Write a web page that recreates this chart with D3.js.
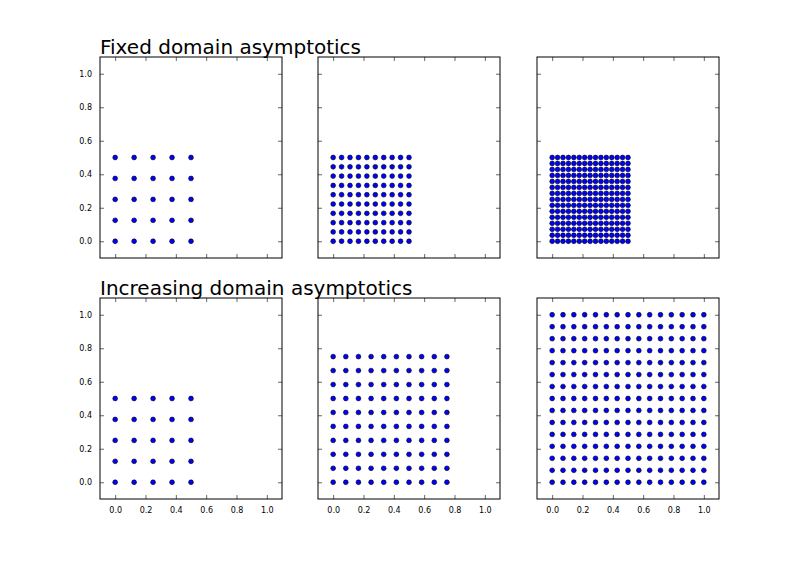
<!DOCTYPE html>
<html><head><meta charset="utf-8">
<script src="https://cdn.jsdelivr.net/npm/d3@7"></script>
<style>body{margin:0;background:#fff}text{font-family:"DejaVu Sans",sans-serif}</style>
</head><body><svg id="c" width="799" height="571"></svg>
<script>
// points per side and extent of each grid
const rowTitles = ["Fixed domain asymptotics", "Increasing domain asymptotics"];
const gridCounts = [[5, 10, 15], [5, 10, 15]];
const gridExtents = [[0.5, 0.5, 0.5], [0.5, 0.75, 1.0]];
const tickValues = [0, 0.2, 0.4, 0.6, 0.8, 1.0];

const svg = d3.select("#c");
const colX = [100, 318, 537], W = 182;
const rowY = [57, 298], H = 201;

rowTitles.forEach((title, r) => {
  svg.append("text").attr("x", colX[0]).attr("y", rowY[r] - 3)
    .attr("font-size", 20).text(title);
  gridCounts[r].forEach((n, c) => {
    const g = svg.append("g").attr("transform", `translate(${colX[c]},${rowY[r]})`);
    const x = d3.scaleLinear().domain([-0.1, 1.1]).range([0, W]);
    const y = d3.scaleLinear().domain([-0.1, 1.1]).range([H, 0]);
    const ext = gridExtents[r][c];
    const vals = d3.range(n).map(i => ext * i / (n - 1));
    const pts = vals.flatMap(a => vals.map(b => [a, b]));
    g.selectAll("circle").data(pts).join("circle")
      .attr("cx", d => x(d[0])).attr("cy", d => y(d[1])).attr("r", 2.4)
      .attr("fill", "#0000ff").attr("stroke", "#000").attr("stroke-width", 0.6);
    const fmt = d3.format(".1f");
    const ax = [
      [d3.axisBottom(x).tickSizeInner(-4), `translate(0,${H})`, r === 1],
      [d3.axisTop(x).tickSizeInner(-4), "", false],
      [d3.axisLeft(y).tickSizeInner(-4), "", c === 0],
      [d3.axisRight(y).tickSizeInner(-4), `translate(${W},0)`, false]
    ];
    ax.forEach(([a, t, lab]) => {
      const s = g.append("g").attr("transform", t)
        .call(a.tickValues(tickValues).tickSizeOuter(0).tickPadding(8)
          .tickFormat(lab ? fmt : ""));
      s.select(".domain").remove();
      s.selectAll("line").attr("stroke", "#000").attr("stroke-width", 0.6);
      s.selectAll("text").attr("font-size", 8).attr("fill", "#000");
    });
    g.append("rect").attr("width", W).attr("height", H)
      .attr("fill", "none").attr("stroke", "#000").attr("stroke-width", 1);
  });
});
</script></body></html>
